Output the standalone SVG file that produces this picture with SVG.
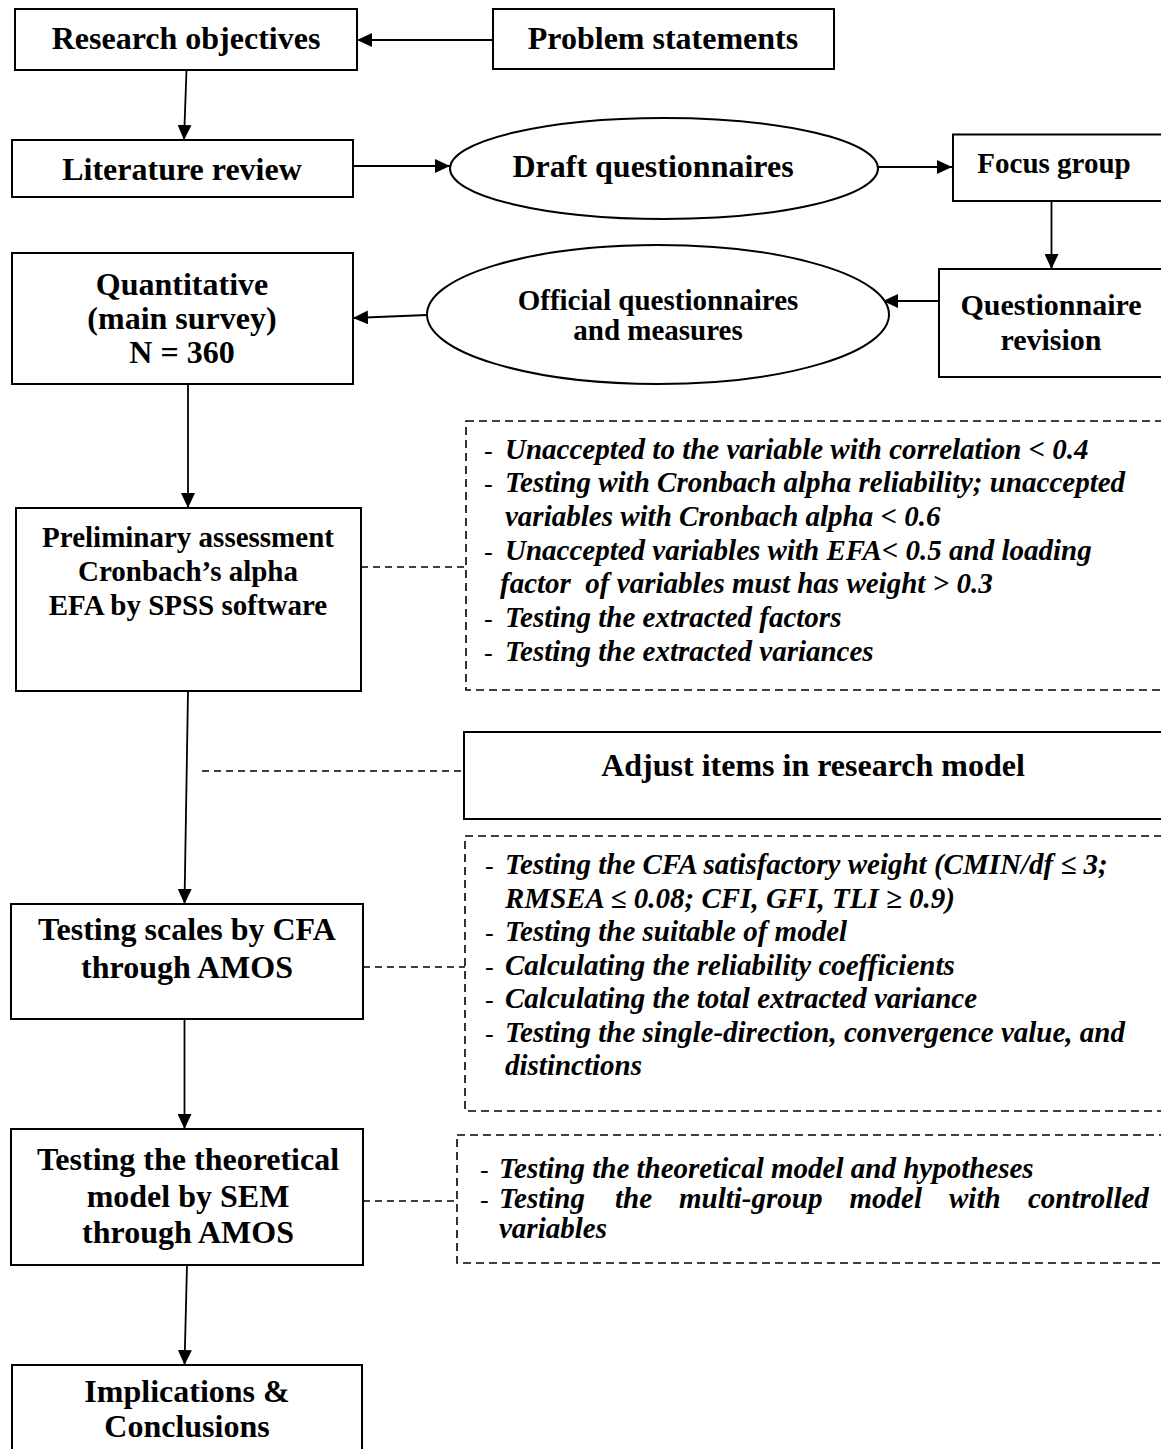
<svg xmlns="http://www.w3.org/2000/svg" width="1161" height="1449" viewBox="0 0 1161 1449">
  <defs>
    <marker id="arrow" viewBox="0 0 15 14" refX="15" refY="7" markerWidth="15" markerHeight="14" orient="auto" markerUnits="userSpaceOnUse">
      <path d="M0,0 L15,7 L0,14 z" fill="#000"/>
    </marker>
    <style>
      .box { fill: #fff; stroke: #000; stroke-width: 2; }
      .dbox { fill: none; stroke: #000; stroke-width: 1.6; stroke-dasharray: 8 5; }
      .flow { fill: none; stroke: #000; stroke-width: 1.8; marker-end: url(#arrow); }
      .link { fill: none; stroke: #000; stroke-width: 1.6; stroke-dasharray: 7 5; }
      .t { font-family: "Liberation Serif", "Times New Roman", serif; font-weight: bold; fill: #000; text-anchor: middle; }
      .t32 { font-size: 32px; }
      .n { font-family: "Liberation Serif", "Times New Roman", serif; font-weight: bold; font-style: italic; font-size: 29px; fill: #000; }
      .dash { font-family: "Liberation Serif", "Times New Roman", serif; font-size: 26px; fill: #000; }
    </style>
  </defs>
  <rect width="1161" height="1449" fill="#fff"/>

  <!-- connectors -->
  <g id="connectors">
    <line class="flow" x1="493" y1="40" x2="357" y2="40"/>
    <line class="flow" x1="186.5" y1="70" x2="184" y2="140"/>
    <line class="flow" x1="353" y1="166" x2="450" y2="166"/>
    <line class="flow" x1="878" y1="167" x2="952" y2="167"/>
    <line class="flow" x1="1051.5" y1="201" x2="1051.5" y2="269"/>
    <line class="flow" x1="939" y1="301" x2="883" y2="301"/>
    <line class="flow" x1="427" y1="315" x2="353" y2="318"/>
    <line class="flow" x1="188" y1="384" x2="188" y2="508"/>
    <line class="flow" x1="188" y1="691" x2="184.5" y2="904"/>
    <line class="flow" x1="184.5" y1="1019" x2="184.5" y2="1129"/>
    <line class="flow" x1="187" y1="1265" x2="184.5" y2="1365"/>
    <line class="link" x1="361" y1="567" x2="466" y2="567"/>
    <line class="link" x1="202" y1="771" x2="464" y2="771"/>
    <line class="link" x1="363" y1="967" x2="465" y2="967"/>
    <line class="link" x1="363" y1="1201" x2="457" y2="1201"/>
  </g>

  <g id="research-objectives">
    <rect class="box" x="15" y="9" width="342" height="61"/>
    <text class="t t32" x="186" y="49">Research objectives</text>
  </g>

  <g id="problem-statements">
    <rect class="box" x="493" y="9" width="341" height="60"/>
    <text class="t t32" x="663" y="49">Problem statements</text>
  </g>

  <g id="literature-review">
    <rect class="box" x="12" y="140" width="341" height="57"/>
    <text class="t t32" x="182" y="180">Literature review</text>
  </g>

  <g id="draft-questionnaires">
    <ellipse class="box" cx="664" cy="168.5" rx="214" ry="50.5"/>
    <text class="t t32" x="653" y="177">Draft questionnaires</text>
  </g>

  <g id="focus-group">
    <rect class="box" x="953" y="134.5" width="214" height="66.5"/>
    <text class="t" font-size="29" x="1054" y="173">Focus group</text>
  </g>

  <g id="questionnaire-revision">
    <rect class="box" x="939" y="269" width="228" height="108"/>
    <text class="t" font-size="30" x="1051" y="315">Questionnaire</text>
    <text class="t" font-size="30" x="1051" y="350">revision</text>
  </g>

  <g id="official-questionnaires">
    <ellipse class="box" cx="658" cy="314.5" rx="231" ry="69.5"/>
    <text class="t" font-size="29" x="658" y="310">Official questionnaires</text>
    <text class="t" font-size="29" x="658" y="340">and measures</text>
  </g>

  <g id="quantitative">
    <rect class="box" x="12" y="253" width="341" height="131"/>
    <text class="t t32" x="182" y="295">Quantitative</text>
    <text class="t t32" x="182" y="329">(main survey)</text>
    <text class="t t32" x="182" y="363">N = 360</text>
  </g>

  <g id="preliminary-assessment">
    <rect class="box" x="16" y="508" width="345" height="183"/>
    <text class="t" font-size="29" x="188" y="547">Preliminary assessment</text>
    <text class="t" font-size="29" x="188" y="581">Cronbach’s alpha</text>
    <text class="t" font-size="29" x="188" y="615">EFA by SPSS software</text>
  </g>

  <g id="efa-criteria">
    <rect class="dbox" x="466" y="421" width="700" height="269"/>
    <text class="dash" x="484" y="459">-</text>
    <text class="n" x="505" y="459">Unaccepted to the variable with correlation &lt; 0.4</text>
    <text class="dash" x="484" y="492">-</text>
    <text class="n" x="505" y="492">Testing with Cronbach alpha reliability; unaccepted</text>
    <text class="n" x="505" y="526">variables with Cronbach alpha &lt; 0.6</text>
    <text class="dash" x="484" y="560">-</text>
    <text class="n" x="505" y="560">Unaccepted variables with EFA&lt; 0.5 and loading</text>
    <text class="n" x="500" y="593" xml:space="preserve">factor  of variables must has weight &gt; 0.3</text>
    <text class="dash" x="484" y="627">-</text>
    <text class="n" x="505" y="627">Testing the extracted factors</text>
    <text class="dash" x="484" y="661">-</text>
    <text class="n" x="505" y="661">Testing the extracted variances</text>
  </g>

  <g id="adjust-items">
    <rect class="box" x="464" y="732" width="703" height="87"/>
    <text class="t t32" x="813" y="776">Adjust items in research model</text>
  </g>

  <g id="testing-scales">
    <rect class="box" x="11" y="904" width="352" height="115"/>
    <text class="t t32" x="187" y="940">Testing scales by CFA</text>
    <text class="t t32" x="187" y="978">through AMOS</text>
  </g>

  <g id="cfa-criteria">
    <rect class="dbox" x="465" y="836" width="700" height="275"/>
    <text class="dash" x="485" y="874">-</text>
    <text class="n" x="505" y="874">Testing the CFA satisfactory weight (CMIN/df ≤ 3;</text>
    <text class="n" x="505" y="908">RMSEA ≤ 0.08; CFI, GFI, TLI ≥ 0.9)</text>
    <text class="dash" x="485" y="941">-</text>
    <text class="n" x="505" y="941">Testing the suitable of model</text>
    <text class="dash" x="485" y="975">-</text>
    <text class="n" x="505" y="975">Calculating the reliability coefficients</text>
    <text class="dash" x="485" y="1008">-</text>
    <text class="n" x="505" y="1008">Calculating the total extracted variance</text>
    <text class="dash" x="485" y="1042">-</text>
    <text class="n" x="505" y="1042">Testing the single-direction, convergence value, and</text>
    <text class="n" x="505" y="1075">distinctions</text>
  </g>

  <g id="testing-theoretical-model">
    <rect class="box" x="11" y="1129" width="352" height="136"/>
    <text class="t t32" x="188" y="1170">Testing the theoretical</text>
    <text class="t t32" x="188" y="1207">model by SEM</text>
    <text class="t t32" x="188" y="1243">through AMOS</text>
  </g>

  <g id="sem-criteria">
    <rect class="dbox" x="457" y="1135" width="710" height="128"/>
    <text class="dash" x="480" y="1178">-</text>
    <text class="n" x="499" y="1178">Testing the theoretical model and hypotheses</text>
    <text class="dash" x="480" y="1208">-</text>
    <!-- justified line: words placed one by one -->
    <text class="n" x="499" y="1208">Testing</text>
    <text class="n" x="615" y="1208">the</text>
    <text class="n" x="679" y="1208">multi-group</text>
    <text class="n" x="849.5" y="1208">model</text>
    <text class="n" x="949" y="1208">with</text>
    <text class="n" x="1028" y="1208">controlled</text>
    <text class="n" x="499" y="1238">variables</text>
  </g>

  <g id="implications">
    <rect class="box" x="12" y="1365" width="350" height="100"/>
    <text class="t t32" x="187" y="1402">Implications &amp;</text>
    <text class="t t32" x="187" y="1437">Conclusions</text>
  </g>
</svg>
